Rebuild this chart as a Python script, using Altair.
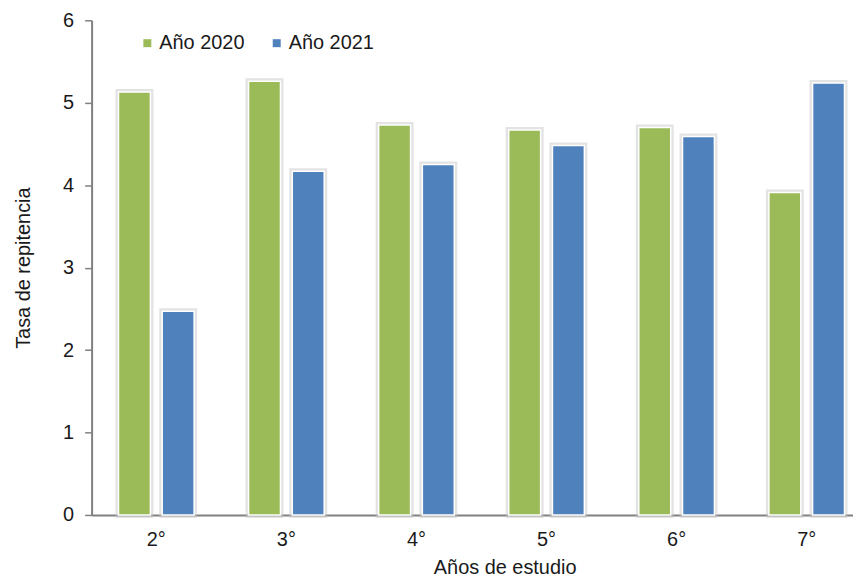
import altair as alt
import pandas as pd

categories = ["2°", "3°", "4°", "5°", "6°", "7°"]
series_names = ["Año 2020", "Año 2021"]
values_2020 = [5.13, 5.26, 4.73, 4.67, 4.70, 3.91]
values_2021 = [2.47, 4.17, 4.25, 4.48, 4.59, 5.24]
colors = ["#9BBB59", "#4F81BD"]

rows = []
for c, v in zip(categories, values_2020):
    rows.append({"grado": c, "serie": series_names[0], "valor": v})
for c, v in zip(categories, values_2021):
    rows.append({"grado": c, "serie": series_names[1], "valor": v})
df = pd.DataFrame(rows)

font = "Liberation Sans"
fs = 20

x_enc = alt.X("grado:N", sort=categories,
              scale=alt.Scale(paddingInner=0.4185, paddingOuter=0.136, align=0.76),
              axis=alt.Axis(title="Años de estudio", labelAngle=0, ticks=False,
                            labelPadding=15, titlePadding=8,
                            titleX=415, titleAlign="center"))
y_enc = alt.Y("valor:Q", scale=alt.Scale(domain=[0, 6], nice=False),
              axis=alt.Axis(title="Tasa de repitencia", values=[0, 1, 2, 3, 4, 5, 6],
                            grid=False, tickSize=7, labelPadding=11, titlePadding=29))
xoff = alt.XOffset("serie:N", sort=series_names,
                   scale=alt.Scale(paddingInner=0.27, paddingOuter=0))
color_enc = alt.Color("serie:N", sort=series_names,
                      scale=alt.Scale(domain=series_names, range=colors),
                      legend=alt.Legend(title=None, orient="none", direction="horizontal",
                                        legendX=46, legendY=13, symbolType="square",
                                        symbolSize=64, symbolStrokeWidth=0,
                                        labelFontSize=fs, labelFont=font,
                                        labelColor="#1a1a1a", columnPadding=22,
                                        labelOffset=2))

shadow = alt.Chart(df).mark_bar(stroke="#c8c8c8", strokeWidth=6, strokeOpacity=0.5,
                                fill="#dddddd").encode(
    x=x_enc, y=y_enc, xOffset=xoff)

bars = alt.Chart(df).mark_bar(stroke="white", strokeWidth=1.5).encode(
    x=x_enc, y=y_enc, xOffset=xoff, color=color_enc)

chart = alt.layer(shadow, bars).properties(
    width=765, height=497,
    padding={"left": 5, "top": 1, "right": 0, "bottom": 0}
).configure_view(stroke=None).configure_axis(
    labelFont=font, titleFont=font, labelFontSize=fs, titleFontSize=fs,
    labelColor="#1a1a1a", titleColor="#1a1a1a", titleFontWeight="normal",
    domainColor="#808080", tickColor="#808080", domainWidth=2, tickWidth=1.5
)

chart.save("out.html", embed_options={"renderer": "svg", "actions": False})
